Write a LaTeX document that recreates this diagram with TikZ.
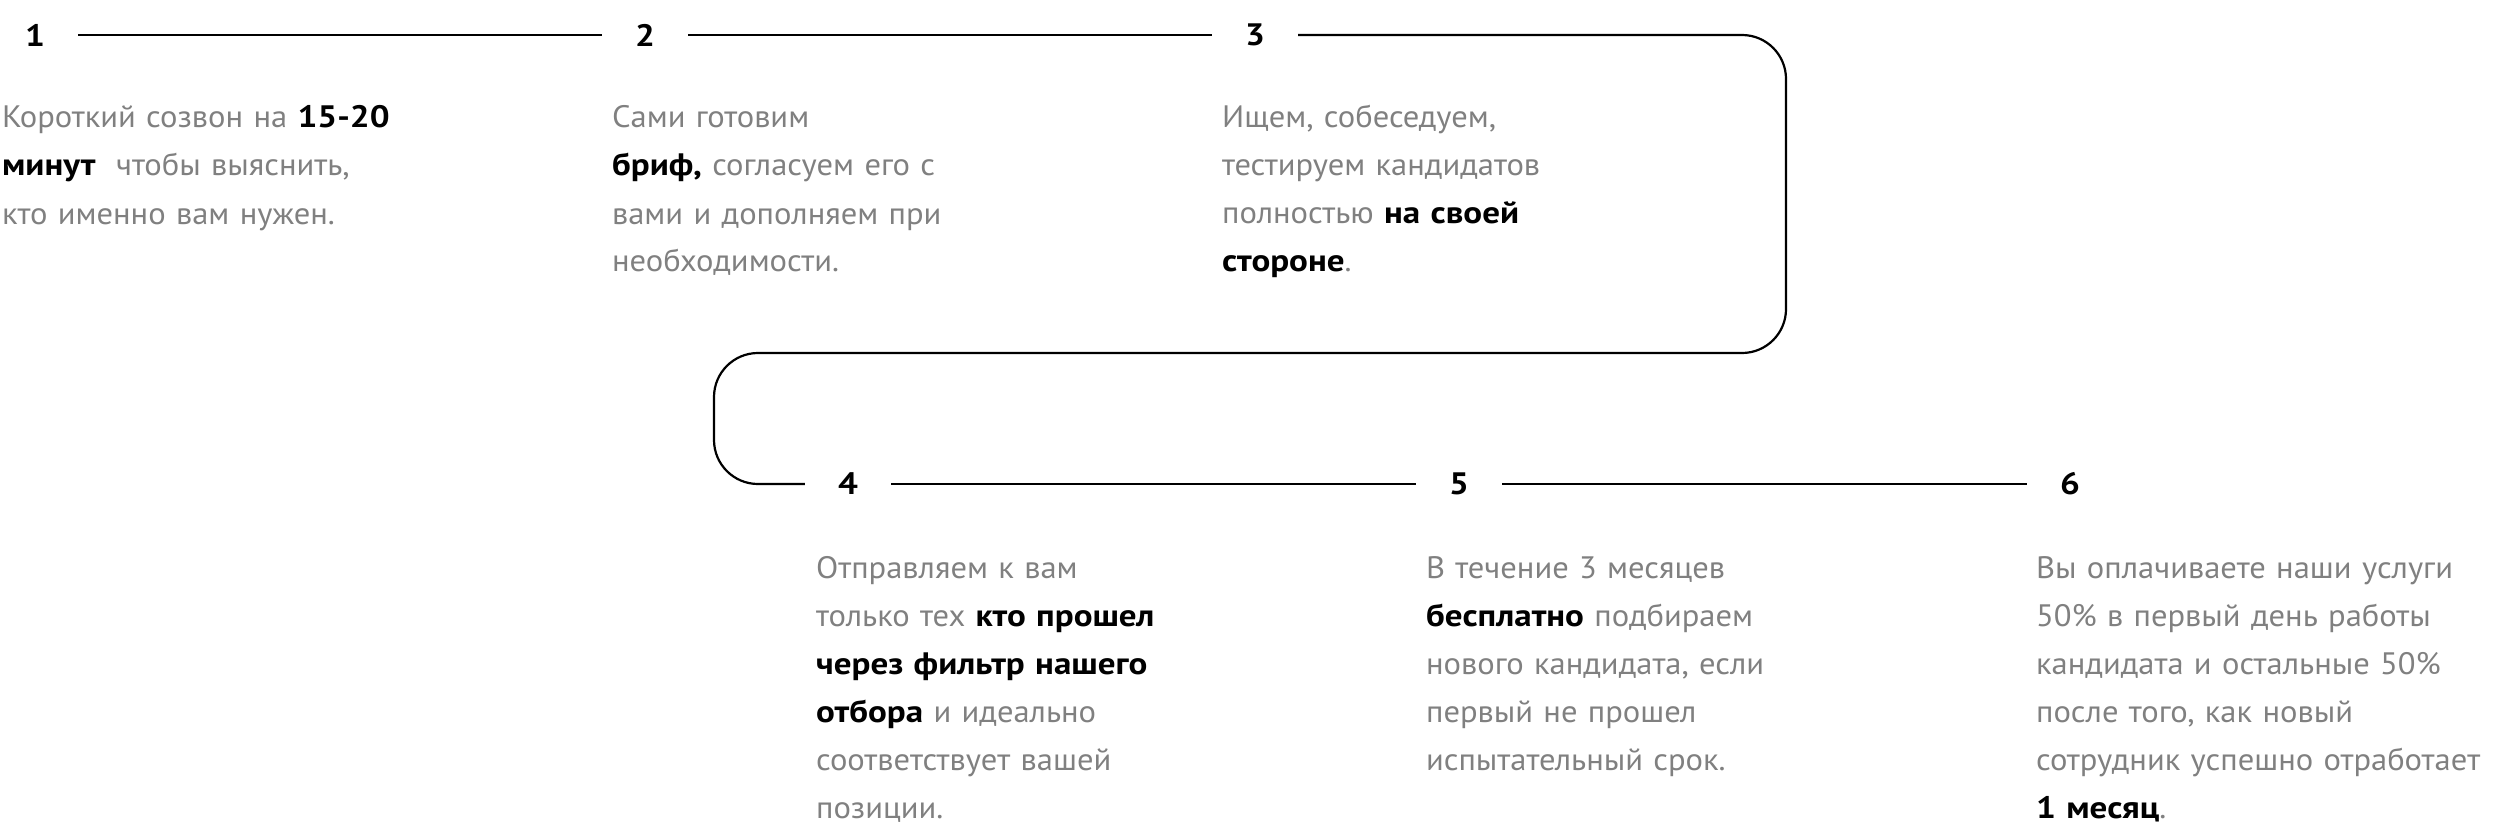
\documentclass[tikz,border=0pt]{standalone}
\usepackage{fontspec}
\setmainfont{PT Sans}[FakeStretch=1.05,BoldFeatures={FakeStretch=1.13}]
\definecolor{notegray}{HTML}{808080}
\newcommand{\dark}[1]{{\bfseries\color{black}#1}}

\begin{document}
\begin{tikzpicture}[x=1pt,y=-1pt,line width=2.2pt]
                \tikzstyle{num}=[font=\bfseries\fontsize{31}{48}\selectfont,minimum width=84pt,inner sep=0pt]
                \tikzstyle{note}=[anchor=base west,inner sep=0pt,text width=480pt,align=left,text=notegray,font=\fontsize{31}{48}\selectfont]
                \useasboundingbox (0,0) rectangle (2510,832);
                        \node[num] (N-1) at (35, 35){1};
                        \node[num] (N-2) at (645, 35){2};
                        \node[num] (N-3) at (1255, 35){3};
                        \node[num] (N-4) at (848, 484){4};
                        \node[num] (N-5) at (1459, 484){5};
                        \node[num] (N-6) at (2070, 484){6};
                        \coordinate (turn-R) at (1786, 353);
                        \coordinate (turn-L) at (714, 353);

                        \node[note] (T-1) at (1, 128){Короткий созвон на \dark{15-20}\\ \dark{минут}\ \ чтобы выяснить,\\ кто именно вам нужен.};
                        \node[note] (T-2) at (611, 128){Сами готовим\\ \dark{бриф,} согласуем его с\\ вами и дополняем при\\ необходимости.};
                        \node[note] (T-3) at (1221, 128){Ищем, собеседуем,\\ тестируем кандидатов\\ полностью \dark{на своей}\\ \dark{стороне}.};
                        \node[note] (T-4) at (815, 578){Отправляем к вам\\ только тех \dark{кто прошел}\\ \dark{через фильтр нашего}\\ \dark{отбора} и идеально\\ соответствует вашей\\ позиции.};
                        \node[note] (T-5) at (1425, 578){В течение 3 месяцев\\ \dark{бесплатно} подбираем\\ нового кандидата, если\\ первый не прошел\\ испытательный срок.};
                        \node[note] (T-6) at (2035, 578){Вы оплачиваете наши услуги\\ 50\% в первый день работы\\ кандидата и остальные 50\%\\ после того, как новый\\ сотрудник успешно отработает\\ \dark{1 месяц}.};

                    \foreach \from/\to in {1/2, 2/3, 4/5, 5/6}
                        \draw (N-\from) -- (N-\to);
                    \draw[rounded corners=44pt] (N-3) -| (turn-R) -- (turn-L) |- (N-4);
            \end{tikzpicture}
\end{document}
